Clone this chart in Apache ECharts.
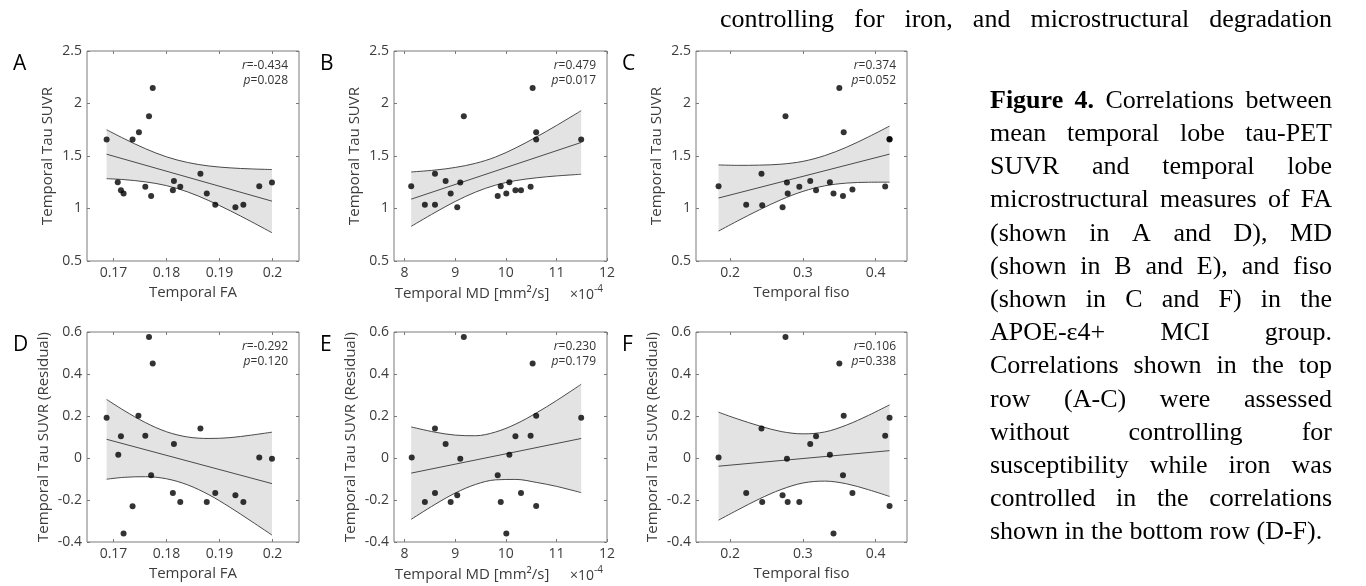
<!DOCTYPE html>
<html><head><meta charset="utf-8">
<script src="https://cdn.jsdelivr.net/npm/echarts@6/dist/echarts.min.js"></script>
<style>html,body{margin:0;padding:0;background:#fff}#c{width:1366px;height:586px}</style>
</head><body><div id="c"></div>
<script>
// ---------------- data ----------------
const faA   = [0.1687,0.1708,0.1714,0.1719,0.1736,0.1748,0.1760,0.1767,0.1771,0.1774,0.1812,0.1814,0.1826,0.1864,0.1876,0.1892,0.1930,0.1945,0.1975,0.1999];
const suvrA = [1.657,1.251,1.175,1.143,1.657,1.727,1.207,1.879,1.118,2.148,1.175,1.261,1.207,1.330,1.143,1.036,1.013,1.036,1.213,1.248];
const mdB   = [8.13,8.40,8.60,8.60,8.81,8.91,9.04,9.10,9.17,9.84,9.90,10.01,10.07,10.19,10.30,10.49,10.53,10.60,10.60,11.49];
const suvrB = [1.213,1.036,1.330,1.036,1.261,1.143,1.013,1.248,1.879,1.118,1.213,1.143,1.251,1.175,1.175,1.207,2.148,1.727,1.657,1.657];
const fisoC = [0.184,0.222,0.243,0.244,0.272,0.276,0.278,0.279,0.295,0.310,0.318,0.337,0.342,0.350,0.355,0.356,0.368,0.413,0.419,0.419];
const suvrC = [1.213,1.036,1.330,1.030,1.013,1.879,1.248,1.143,1.207,1.261,1.175,1.251,1.143,2.148,1.118,1.727,1.180,1.210,1.657,1.662];
const faD    = [0.1687,0.1709,0.1714,0.1719,0.1736,0.1747,0.1760,0.1767,0.1771,0.1774,0.1812,0.1814,0.1826,0.1864,0.1876,0.1892,0.1930,0.1945,0.1975,0.1999];
const residD = [0.192,0.015,0.103,-0.360,-0.230,0.201,0.106,0.576,-0.082,0.450,-0.167,0.067,-0.209,0.140,-0.209,-0.167,-0.177,-0.209,0.002,-0.004];
const mdE    = [8.14,8.40,8.60,8.60,8.81,8.91,9.04,9.10,9.17,9.84,9.90,10.01,10.07,10.19,10.30,10.49,10.53,10.60,10.60,11.49];
const residE = [0.002,-0.209,0.140,-0.167,0.067,-0.209,-0.177,-0.004,0.576,-0.082,-0.209,-0.360,0.015,0.103,-0.167,0.106,0.450,0.201,-0.228,0.192];
const fisoF  = [0.184,0.222,0.243,0.244,0.272,0.276,0.278,0.279,0.295,0.310,0.318,0.337,0.342,0.350,0.355,0.356,0.368,0.413,0.419,0.419];
const residF = [0.002,-0.167,0.140,-0.209,-0.177,0.576,-0.004,-0.209,-0.209,0.067,0.103,0.015,-0.360,0.450,-0.082,0.201,-0.167,0.106,0.192,-0.229];

// regression lines (end points)
const fitXFA = [0.1687,0.1999], fitXMD = [8.13,11.49], fitXFiso = [0.184,0.419];
const fitYA = [1.517,1.070], fitYB = [1.089,1.629], fitYC = [1.100,1.518];
const fitYD = [0.089,-0.122], fitYE = [-0.072,0.093], fitYF = [-0.039,0.035];

// confidence band boundaries
const bandXFA   = [0.1687,0.172,0.176,0.180,0.184,0.188,0.192,0.196,0.1999];
const bandXMD   = [8.13,8.6,9.0,9.4,9.8,10.2,10.6,11.0,11.49];
const bandXFiso = [0.184,0.21,0.24,0.27,0.30,0.33,0.36,0.39,0.419];
const upperA = [1.750,1.665,1.570,1.492,1.438,1.405,1.387,1.377,1.371];
const lowerA = [1.284,1.275,1.254,1.218,1.158,1.075,0.979,0.875,0.769];
const upperB = [1.348,1.366,1.391,1.430,1.491,1.578,1.680,1.790,1.932];
const lowerB = [0.830,0.962,1.067,1.156,1.223,1.266,1.292,1.310,1.326];
const upperC = [1.415,1.411,1.413,1.422,1.449,1.504,1.584,1.682,1.785];
const lowerC = [0.785,0.881,0.987,1.084,1.163,1.216,1.242,1.250,1.251];
const upperD = [0.279,0.226,0.169,0.125,0.100,0.093,0.097,0.109,0.123];
const lowerD = [-0.101,-0.092,-0.089,-0.099,-0.128,-0.175,-0.235,-0.301,-0.367];
const upperE = [0.148,0.123,0.109,0.106,0.124,0.162,0.214,0.273,0.351];
const lowerE = [-0.292,-0.221,-0.167,-0.126,-0.104,-0.102,-0.116,-0.135,-0.165];
const upperF = [0.218,0.186,0.153,0.126,0.115,0.124,0.157,0.203,0.253];
const lowerF = [-0.296,-0.248,-0.195,-0.150,-0.119,-0.110,-0.123,-0.151,-0.183];

// axes
const xRangeFA = [0.165,0.205], xRangeMD = [7.79,12.0], xRangeFiso = [0.153,0.443];
const yRangeSUVR = [0.5,2.5], yRangeResid = [-0.4,0.6];
const faTicks = [0.17,0.18,0.19,0.2], mdTicks = [8,9,10,11,12], fisoTicks = [0.2,0.3,0.4];
const suvrTicks = [0.5,1,1.5,2,2.5], residTicks = [-0.4,-0.2,0,0.2,0.4,0.6];

// statistics text
const rVals = ['-0.434','0.479','0.374','-0.292','0.230','0.106'];
const pVals = ['0.028','0.017','0.052','0.120','0.179','0.338'];
const letters = ['A','B','C','D','E','F'];

const topLine = 'controlling for iron, and microstructural degradation';
const captionBold = 'Figure 4.';
const captionLines = [
  'Figure 4. Correlations between',
  'mean temporal lobe tau-PET',
  'SUVR and temporal lobe',
  'microstructural measures of FA',
  '(shown in A and D), MD',
  '(shown in B and E), and fiso',
  '(shown in C and F) in the',
  'APOE-\u03b54+ MCI group.',
  'Correlations shown in the top',
  'row (A-C) were assessed',
  'without controlling for',
  'susceptibility while iron was',
  'controlled in the correlations',
  'shown in the bottom row (D-F).'
];

// ---------------- build chart ----------------
const SANS = "'Open Sans', 'Noto Sans', sans-serif";
const LBL = '#3c3c3c', BOX = '#7a7a7a', BANDLINE = '#4a4a4a', FILL = '#e3e3e3';
const fmt = v => String(Math.round(v * 1000) / 1000);

const panels = [
  {x:faA,  y:suvrA,  bx:bandXFA,   up:upperA, lo:lowerA, fx:fitXFA,   fy:fitYA, xr:xRangeFA,   xt:faTicks,   yr:yRangeSUVR,  yt:suvrTicks,  xname:'Temporal FA', yname:'Temporal Tau SUVR', g:[87,51,212,210]},
  {x:mdB,  y:suvrB,  bx:bandXMD,   up:upperB, lo:lowerB, fx:fitXMD,   fy:fitYB, xr:xRangeMD,   xt:mdTicks,   yr:yRangeSUVR,  yt:suvrTicks,  xname:'Temporal MD [mm\u00b2/s]', yname:'Temporal Tau SUVR', g:[394,51,213,210], sci:true},
  {x:fisoC,y:suvrC,  bx:bandXFiso, up:upperC, lo:lowerC, fx:fitXFiso, fy:fitYC, xr:xRangeFiso, xt:fisoTicks, yr:yRangeSUVR,  yt:suvrTicks,  xname:'Temporal fiso', yname:'Temporal Tau SUVR', g:[696,51,211,210]},
  {x:faD,  y:residD, bx:bandXFA,   up:upperD, lo:lowerD, fx:fitXFA,   fy:fitYD, xr:xRangeFA,   xt:faTicks,   yr:yRangeResid, yt:residTicks, xname:'Temporal FA', yname:'Temporal Tau SUVR (Residual)', g:[87,332,212,210]},
  {x:mdE,  y:residE, bx:bandXMD,   up:upperE, lo:lowerE, fx:fitXMD,   fy:fitYE, xr:xRangeMD,   xt:mdTicks,   yr:yRangeResid, yt:residTicks, xname:'Temporal MD [mm\u00b2/s]', yname:'Temporal Tau SUVR (Residual)', g:[394,332,213,210], sci:true},
  {x:fisoF,y:residF, bx:bandXFiso, up:upperF, lo:lowerF, fx:fitXFiso, fy:fitYF, xr:xRangeFiso, xt:fisoTicks, yr:yRangeResid, yt:residTicks, xname:'Temporal fiso', yname:'Temporal Tau SUVR (Residual)', g:[696,332,211,210]}
];

const grid = [], xAxis = [], yAxis = [], series = [], graphic = [];
const tick = vals => ({show:true, inside:true, length:3, lineStyle:{color:BOX, width:1}, customValues:vals});
const noLine = {show:false, onZero:false};

panels.forEach((p, i) => {
  const [L, T, W, H] = p.g;
  grid.push({left:L, top:T, width:W, height:H, show:true, z:10, borderColor:BOX, borderWidth:1, backgroundColor:'transparent', containLabel:false, outerBoundsMode:'none'});
  const resid = i >= 3;
  xAxis.push({gridIndex:i, type:'value', position:'bottom', min:p.xr[0], max:p.xr[1], z:10,
    axisLine:noLine, splitLine:{show:false}, axisTick:tick(p.xt),
    axisLabel:{customValues:p.xt, formatter:fmt, color:LBL, fontFamily:SANS, fontSize:14, margin:5},
    name:p.xname, nameLocation:'middle', nameGap:p.sci ? 25 : 24,
    nameTextStyle:{color:LBL, fontFamily:SANS, fontSize:15, padding:p.sci ? [0,57,0,0] : 0}});
  xAxis.push({gridIndex:i, type:'value', position:'top', min:p.xr[0], max:p.xr[1], z:10,
    axisLine:noLine, splitLine:{show:false}, axisTick:tick(p.xt), axisLabel:{show:false}});
  yAxis.push({gridIndex:i, type:'value', position:'left', min:p.yr[0], max:p.yr[1], z:10,
    axisLine:noLine, splitLine:{show:false}, axisTick:tick(p.yt),
    axisLabel:{customValues:p.yt, formatter:fmt, color:LBL, fontFamily:SANS, fontSize:14, margin:5},
    name:p.yname, nameLocation:'middle', nameGap:resid ? 36 : 32, nameRotate:90,
    nameTextStyle:{color:LBL, fontFamily:SANS, fontSize:15}});
  yAxis.push({gridIndex:i, type:'value', position:'right', min:p.yr[0], max:p.yr[1], z:10,
    axisLine:noLine, splitLine:{show:false}, axisTick:tick(p.yt), axisLabel:{show:false}});

  const xi = 2 * i, yi = 2 * i, sm = 0.35;
  // confidence band fill: one polygon through the band points
  series.push({type:'custom', xAxisIndex:xi, yAxisIndex:yi, silent:true, z:1,
    data:p.bx.map((x,k)=>[x, p.lo[k], p.up[k]]),
    encode:{x:0, y:[1,2]},
    renderItem:(params, api) => {
      if (params.dataIndex !== 0) return null;
      const pts = [];
      p.bx.forEach((x,k)=> pts.push(api.coord([x, p.up[k]])));
      for (let k = p.bx.length - 1; k >= 0; k--) pts.push(api.coord([p.bx[k], p.lo[k]]));
      return {type:'polygon', shape:{points:pts}, style:{fill:FILL, stroke:null}};
    }});
  series.push({type:'line', xAxisIndex:xi, yAxisIndex:yi, smooth:sm, symbol:'none', silent:true, z:2,
    data:p.bx.map((x,k)=>[x, p.up[k]]), lineStyle:{color:BANDLINE, width:1}});
  series.push({type:'line', xAxisIndex:xi, yAxisIndex:yi, smooth:sm, symbol:'none', silent:true, z:2,
    data:p.bx.map((x,k)=>[x, p.lo[k]]), lineStyle:{color:BANDLINE, width:1}});
  series.push({type:'line', xAxisIndex:xi, yAxisIndex:yi, symbol:'none', silent:true, z:2,
    data:p.fx.map((x,k)=>[x, p.fy[k]]), lineStyle:{color:BANDLINE, width:1}});
  series.push({type:'scatter', xAxisIndex:xi, yAxisIndex:yi, symbolSize:6, silent:true, z:3,
    data:p.x.map((x,k)=>[x, p.y[k]]), itemStyle:{color:'#000'}});

  // panel letter
  graphic.push({type:'text', x:L - 74, y:T + 13, silent:true, z:20,
    style:{text:letters[i], font:"21px 'Open Sans'", fill:'#000', align:'left', verticalAlign:'middle', textAlign:'left', textVerticalAlign:'middle'}});
  // r / p
  const rich = {i:{fontStyle:'italic', fontSize:12, fontFamily:SANS, fill:'#333'}, n:{fontSize:12, fontFamily:SANS, fill:'#333'}};
  graphic.push({type:'text', x:L + W - 11, y:T + 15, silent:true, z:20,
    style:{text:'{i|r}{n|=' + rVals[i] + '}', rich, fontSize:12, fontFamily:SANS, align:'right', verticalAlign:'middle', textAlign:'right', textVerticalAlign:'middle'}});
  graphic.push({type:'text', x:L + W - 11, y:T + 30, silent:true, z:20,
    style:{text:'{i|p}{n|=' + pVals[i] + '}', rich, fontSize:12, fontFamily:SANS, align:'right', verticalAlign:'middle', textAlign:'right', textVerticalAlign:'middle'}});
  if (p.sci) {
    const ny = T + H + 34;
    graphic.push({type:'text', x:L + W - 37, y:ny, silent:true, z:20,
      style:{text:'\u00d710', font:"14px 'Open Sans'", fill:LBL, align:'left', verticalAlign:'middle', textAlign:'left', textVerticalAlign:'middle'}});
    graphic.push({type:'text', x:L + W - 13, y:ny - 6, silent:true, z:20,
      style:{text:'-4', font:"10px 'Open Sans'", fill:LBL, align:'left', verticalAlign:'middle', textAlign:'left', textVerticalAlign:'middle'}});
  }
});

// justified serif text
const mctx = document.createElement('canvas').getContext('2d');
const FN = "26px 'Liberation Serif'", FB = "bold 26px 'Liberation Serif'";
function tw(t, f){ mctx.font = f; return mctx.measureText(t).width; }
function lineEls(text, x0, x1, y, justify, boldPrefix){
  const words = text.split(' ');
  let boldCount = 0;
  if (boldPrefix && text.startsWith(boldPrefix)) boldCount = boldPrefix.split(' ').length;
  const fonts = words.map((w,k)=> k < boldCount ? FB : FN);
  const widths = words.map((w,k)=> tw(w, fonts[k]));
  const total = widths.reduce((a,b)=>a+b, 0);
  const gap = (justify && words.length > 1) ? (x1 - x0 - total) / (words.length - 1) : tw(' ', FN);
  let x = x0;
  words.forEach((w,k)=>{
    graphic.push({type:'text', x, y, silent:true, z:20,
      style:{text:w, font:fonts[k], fill:'#000', align:'left', verticalAlign:'middle', textAlign:'left', textVerticalAlign:'middle'}});
    x += widths[k] + gap;
  });
}
lineEls(topLine, 720, 1332, 20, true);
captionLines.forEach((ln, k) => {
  lineEls(ln, 990, 1332, 101 + 33.2 * k, k < captionLines.length - 1, captionBold);
});

const chart = echarts.init(document.getElementById('c'), null, {renderer:'canvas', width:1366, height:586});
chart.setOption({animation:false, backgroundColor:'#fff', grid, xAxis, yAxis, series, graphic});
</script>
</body></html>
